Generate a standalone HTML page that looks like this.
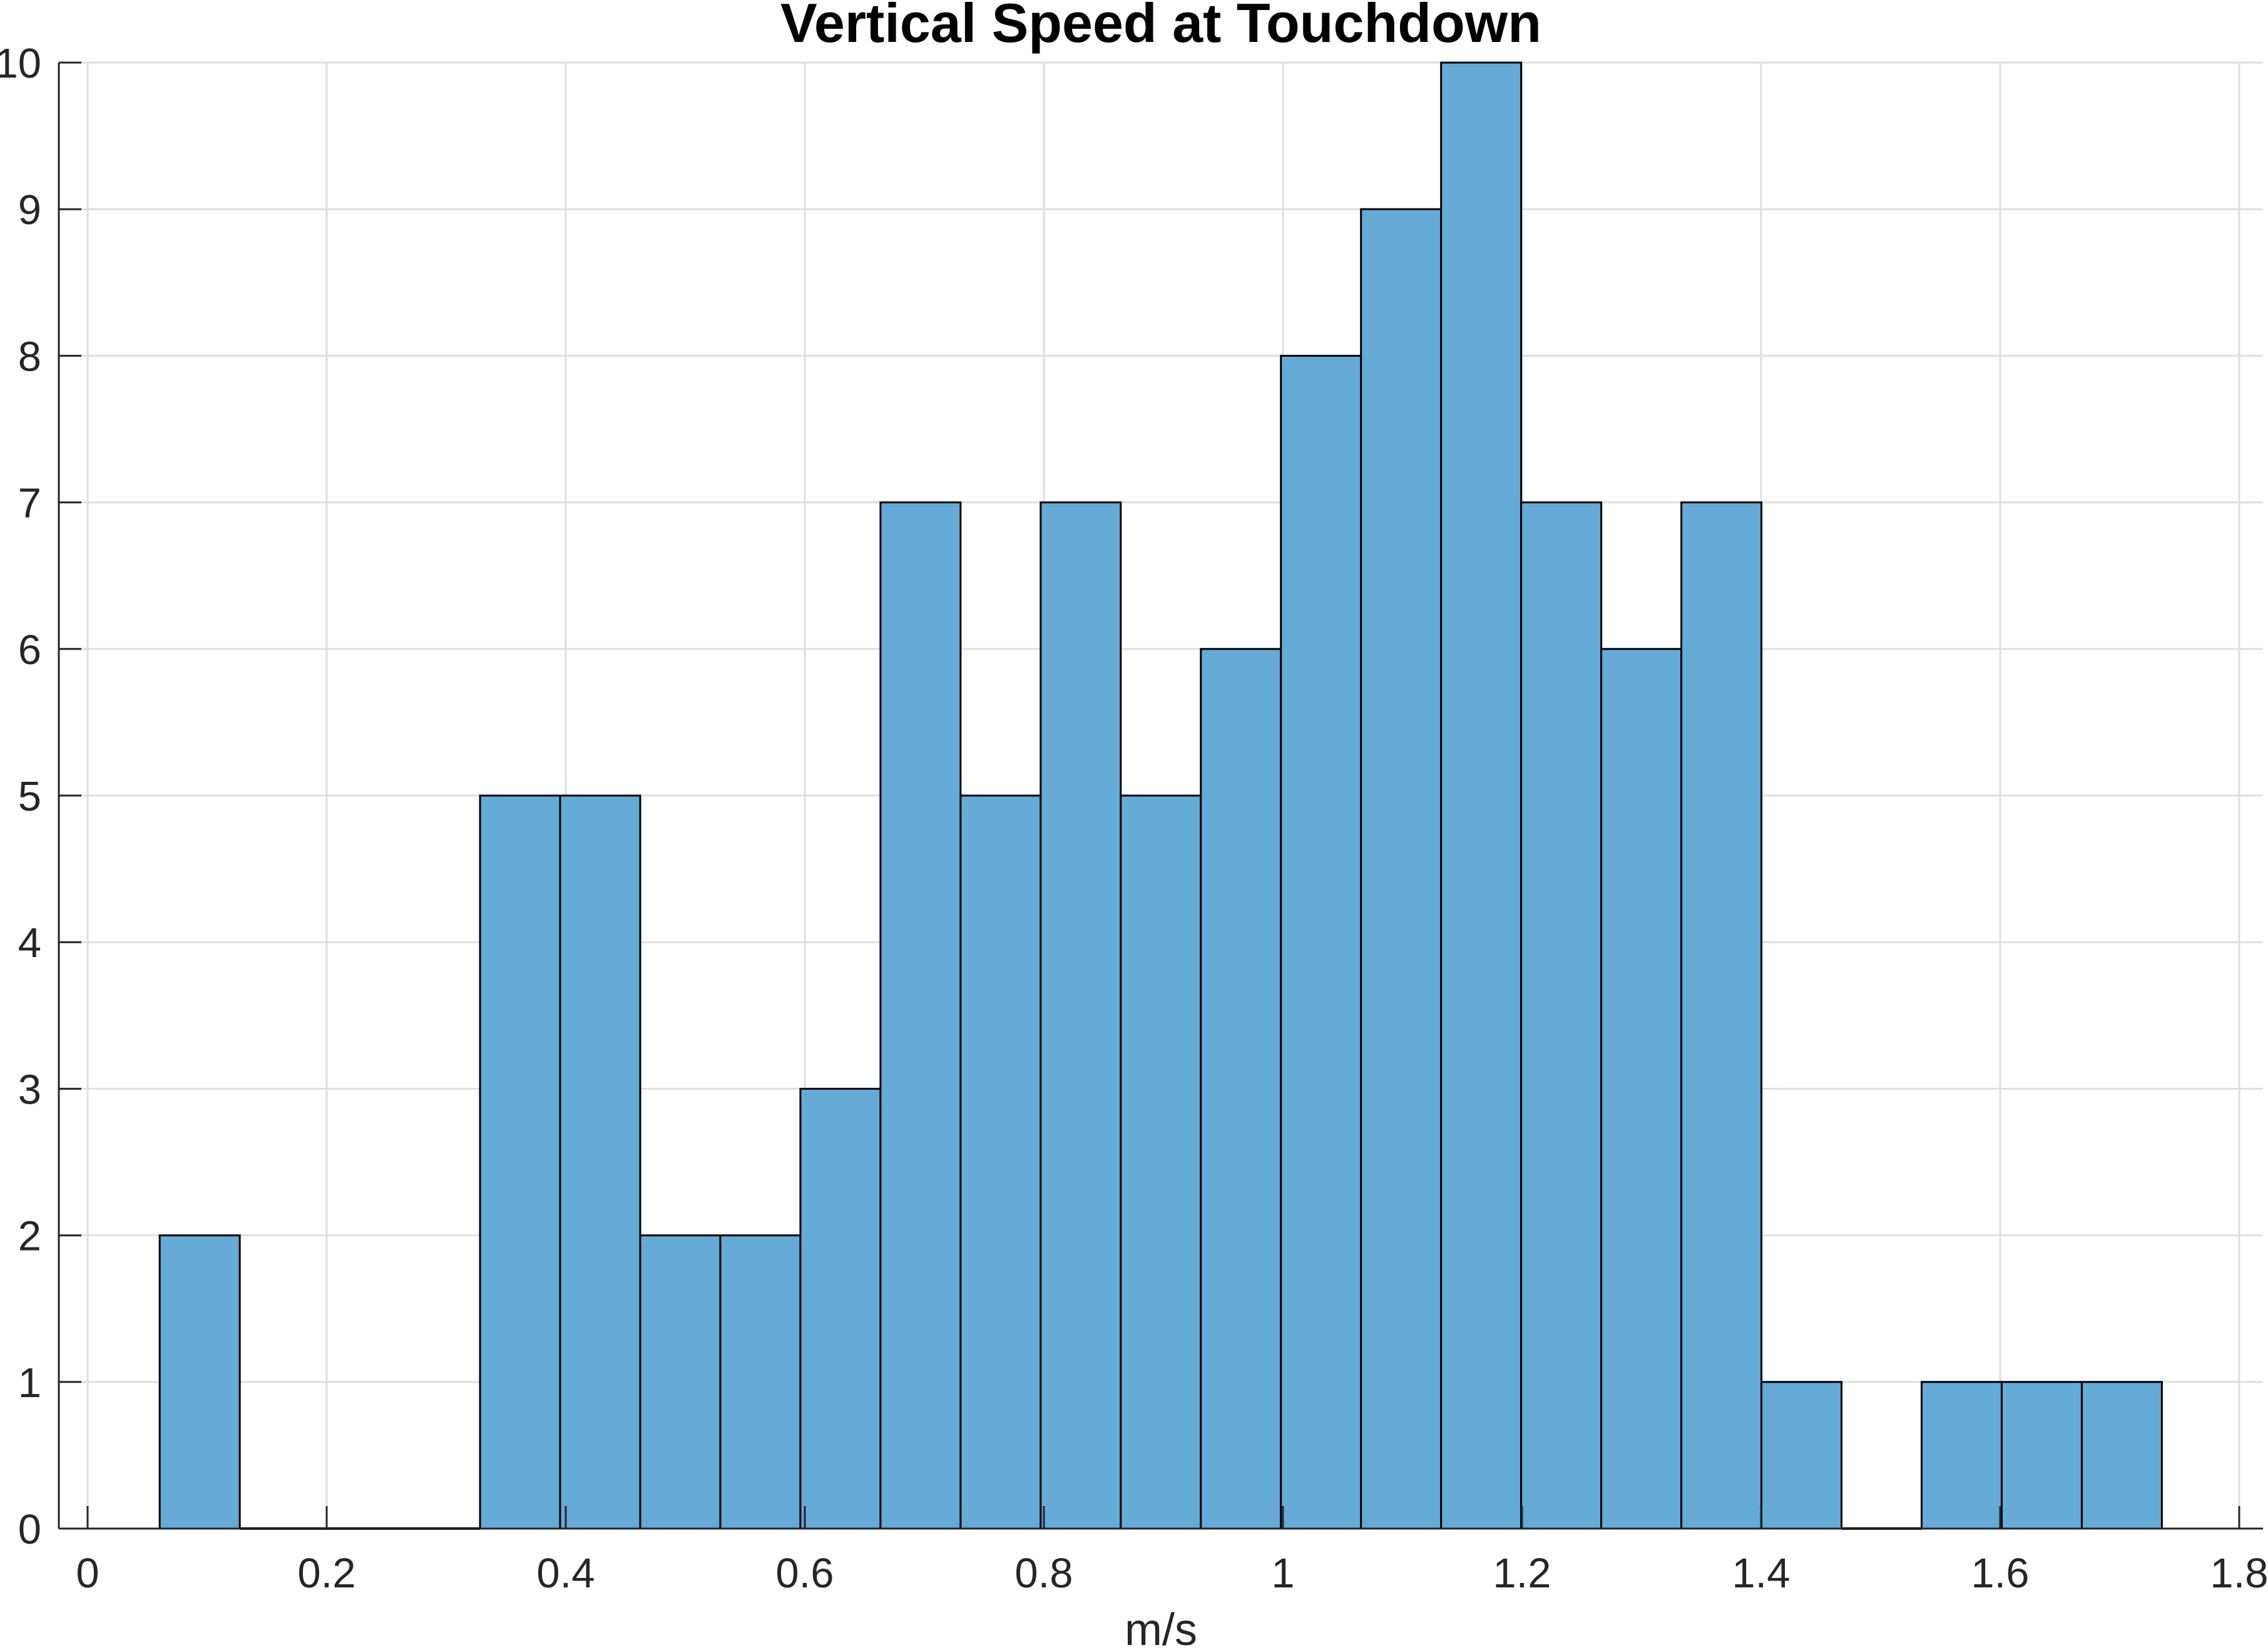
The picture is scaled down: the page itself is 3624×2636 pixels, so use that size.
<!DOCTYPE html>
<html><head><meta charset="utf-8"><style>
html,body{margin:0;padding:0;background:#fff;}
svg{display:block;font-family:"Liberation Sans",Arial,sans-serif;}
</style></head><body>
<svg id="chart" width="3624" height="2636" viewBox="0 0 3624 2636" xmlns="http://www.w3.org/2000/svg">
<rect x="0" y="0" width="3624" height="2636" fill="#fff"/>
<g id="grid"></g>
<g id="bars"></g>
<g id="axes"></g>
<text x="1855" y="67" text-anchor="middle" font-size="88" font-weight="bold" fill="#000">Vertical Speed at Touchdown</text>
<text x="1855" y="2628" text-anchor="middle" font-size="72" fill="#262626">m/s</text>
</svg>
<script>
const binStart = 0.0603;
const binWidth = 0.067;
const counts = [2,0,0,0,5,5,2,2,3,7,5,7,5,6,8,9,10,7,6,7,1,0,1,1,1];
const xTicks = [0,0.2,0.4,0.6,0.8,1,1.2,1.4,1.6,1.8];
const xTickLabels = ["0","0.2","0.4","0.6","0.8","1","1.2","1.4","1.6","1.8"];
const yTicks = [0,1,2,3,4,5,6,7,8,9,10];
const yTickLabels = ["0","1","2","3","4","5","6","7","8","9","10"];

const NS="http://www.w3.org/2000/svg";
const L=94,R=3616,T=100,B=2442;
const X0=140,XU=(3578-140)/1.8;
const xs=v=>X0+v*XU;
const ys=v=>B-(v/10)*(B-T);
function mk(tag,attrs,parent){const e=document.createElementNS(NS,tag);for(const k in attrs)e.setAttribute(k,attrs[k]);parent.appendChild(e);return e;}
const grid=document.getElementById('grid'),bars=document.getElementById('bars'),axes=document.getElementById('axes');
xTicks.forEach((t,i)=>{
  const g=mk('line',{x1:xs(t),x2:xs(t),y1:T,y2:B,stroke:'#dfdfdf','stroke-width':3},grid);
  
  
  const tk=mk('line',{x1:xs(t),x2:xs(t),y1:B-36,y2:B,stroke:'#262626','stroke-width':3},axes);
  
  
  const lb=mk('text',{x:xs(t),y:2536,'text-anchor':'middle','font-size':67,fill:'#262626'},axes);
  lb.textContent=xTickLabels[i];
  
  
});
yTicks.forEach((t,i)=>{
  const g=mk('line',{x1:L,x2:R,y1:ys(t),y2:ys(t),stroke:'#dfdfdf','stroke-width':3},grid);
  
  
  const tk=mk('line',{x1:L,x2:L+36,y1:ys(t),y2:ys(t),stroke:'#262626','stroke-width':3},axes);
  
  
  const lb=mk('text',{x:66,y:ys(t)+24,'text-anchor':'end','font-size':67,fill:'#262626'},axes);
  lb.textContent=yTickLabels[i];
  
  
});
counts.forEach((c,i)=>{
  const x1=xs(binStart+i*binWidth),x2=xs(binStart+(i+1)*binWidth);
  if(c>0){
    const r=mk('rect',{x:x1,y:ys(c),width:x2-x1,height:B-ys(c),fill:'#66aad7',stroke:'#000','stroke-width':3},bars);
    
    
  } else {
    const r=mk('line',{x1:x1,x2:x2,y1:B,y2:B,stroke:'#000','stroke-width':4},bars);
    
    
  }
});
const xa=mk('line',{x1:L,x2:R,y1:B,y2:B,stroke:'#262626','stroke-width':3},axes);


const ya=mk('line',{x1:L,x2:L,y1:T,y2:B,stroke:'#262626','stroke-width':3},axes);


</script>
</body></html>
